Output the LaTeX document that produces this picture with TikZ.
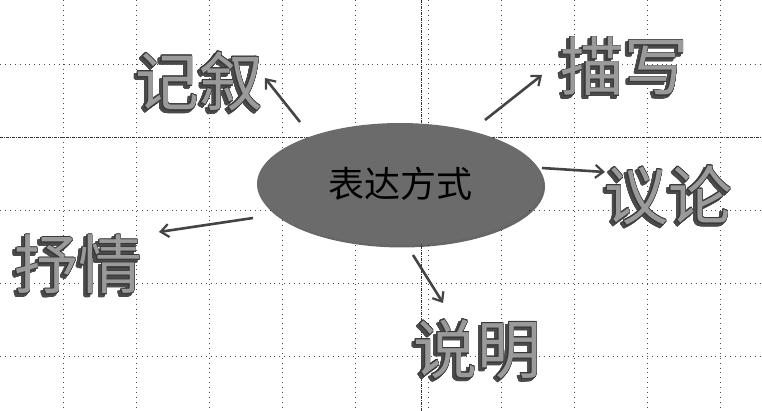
\documentclass[tikz,border=0pt]{standalone}
\usepackage{fontspec}
\usepackage{contour}
\usetikzlibrary{arrows.meta,shapes.geometric,shadows}
\newfontfamily\cjk{Noto Sans CJK SC}
\definecolor{hubgray}{HTML}{6B6B6B}
\definecolor{arrowgray}{HTML}{444444}
\definecolor{fillg}{HTML}{9A9A9A}
\definecolor{outl}{HTML}{3A3A3A}
\definecolor{shadowg}{HTML}{4A4A4A}
\contourlength{0.9pt}
\contournumber{24}
\tikzset{
  gridline/.style={black!70, line width=0.9pt, dash pattern=on 0.9pt off 4pt},
  axisline/.style={black!80, line width=0.8pt, dash pattern=on 3pt off 1pt on 1pt off 1pt},
  hub/.style={ellipse, fill=hubgray, minimum width=286pt, minimum height=122pt, inner sep=0pt,
    drop shadow={shadow xshift=2pt, shadow yshift=-2.5pt, fill=black, opacity=0.6},
    font=\cjk\fontsize{36}{40}\selectfont, text=black},
  bigtext/.style={font=\cjk\fontsize{64}{70}\selectfont, inner sep=0pt, text=fillg},
  bigshadow/.style={font=\cjk\fontsize{64}{70}\selectfont, inner sep=0pt, text=shadowg, xshift=-2.5pt, yshift=-2.5pt},
  link/.style={draw=arrowgray, line width=2.6pt, -{Straight Barb[length=8pt,width=13pt,line width=2.2pt]}}
}
\newcommand{\outlined}[1]{\contour{outl}{#1}}
\newcommand{\shadowed}[1]{\contour{shadowg}{#1}}
\begin{document}
\begin{tikzpicture}[x=1pt,y=-1pt]
  \useasboundingbox (0,0) rectangle (762,411);
  \fill[white] (0,0) rectangle (762,411);
  % grid
  \foreach \gx in {63,136,209,282,355,428,501,574,647,720}
    \draw[gridline] (\gx,0) -- (\gx,411);
  \foreach \gy in {64,210,283,356}
    \draw[gridline] (0,\gy) -- (762,\gy);
  \draw[axisline] (0,137) -- (762,137);
  \draw[axisline] (421,0) -- (421,411);
  % hub
  \node[hub] (hub) at (400,184) {表达方式};
  % outer texts
  \node[bigshadow] (jxs) at (199,82) {\shadowed{记叙}};
  \node[bigtext] (jx) at (199,82) {\outlined{记叙}};
  \node[bigshadow] (mxs) at (624,67) {\shadowed{描写}};
  \node[bigtext] (mx) at (624,67) {\outlined{描写}};
  \node[bigshadow] (yls) at (668,196) {\shadowed{议论}};
  \node[bigtext] (yl) at (668,196) {\outlined{议论}};
  \node[bigshadow] (sqs) at (78,265) {\shadowed{抒情}};
  \node[bigtext] (sq) at (78,265) {\outlined{抒情}};
  \node[bigshadow] (sms) at (477,350) {\shadowed{说明}};
  \node[bigtext] (sm) at (477,350) {\outlined{说明}};
  % arrow end points
  \coordinate (a1s) at (300,122); \coordinate (a1e) at (265,78);
  \coordinate (a2s) at (485,120); \coordinate (a2e) at (542,75);
  \coordinate (a3s) at (542,168); \coordinate (a3e) at (605,172);
  \coordinate (a4s) at (253,218); \coordinate (a4e) at (159,232);
  \coordinate (a5s) at (413,255); \coordinate (a5e) at (443,303);
  \draw[link] (a1s) -- (a1e);
  \draw[link] (a2s) -- (a2e);
  \draw[link] (a3s) -- (a3e);
  \draw[link] (a4s) -- (a4e);
  \draw[link] (a5s) -- (a5e);
\end{tikzpicture}
\end{document}
